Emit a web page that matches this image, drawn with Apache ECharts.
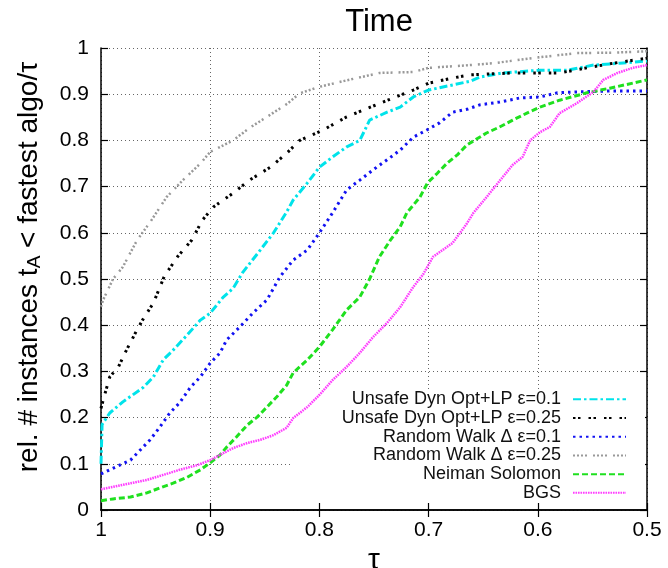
<!DOCTYPE html>
<html>
<head>
<meta charset="utf-8">
<script src="https://cdn.jsdelivr.net/npm/echarts@6/dist/echarts.min.js"></script>
<style>
html,body{margin:0;padding:0;background:#fff;}
#chart{width:668px;height:568px;}
</style>
</head>
<body>
<div id="chart"></div>
<script>
// ---- data ----
const seriesNames = [
  'Unsafe Dyn Opt+LP \u03b5=0.1',
  'Unsafe Dyn Opt+LP \u03b5=0.25',
  'Random Walk \u0394 \u03b5=0.1',
  'Random Walk \u0394 \u03b5=0.25',
  'Neiman Solomon',
  'BGS'
];
const xTicks = [1, 0.9, 0.8, 0.7, 0.6, 0.5];
const yTicks = [0, 0.1, 0.2, 0.3, 0.4, 0.5, 0.6, 0.7, 0.8, 0.9, 1];

const cyanTau = [1.0, 0.999, 0.992, 0.98, 0.971, 0.961, 0.952, 0.943, 0.934, 0.921, 0.909, 0.90, 0.888, 0.879, 0.87, 0.854, 0.842, 0.83, 0.824, 0.811, 0.80, 0.788, 0.775, 0.763, 0.754, 0.738, 0.726, 0.714, 0.70, 0.678, 0.662, 0.653, 0.632, 0.598, 0.573, 0.549, 0.525, 0.5];
const cyanVal = [0.10, 0.185, 0.21, 0.234, 0.249, 0.266, 0.288, 0.325, 0.346, 0.379, 0.411, 0.426, 0.461, 0.48, 0.515, 0.563, 0.60, 0.645, 0.671, 0.708, 0.742, 0.764, 0.786, 0.80, 0.844, 0.861, 0.872, 0.894, 0.909, 0.92, 0.928, 0.937, 0.946, 0.952, 0.952, 0.963, 0.967, 0.972];

const blackTau = [1.0, 0.998, 0.992, 0.984, 0.978, 0.967, 0.961, 0.952, 0.942, 0.93, 0.917, 0.907, 0.897, 0.879, 0.864, 0.845, 0.83, 0.818, 0.797, 0.775, 0.745, 0.714, 0.70, 0.678, 0.662, 0.623, 0.58, 0.555, 0.531, 0.5];
const blackVal = [0.22, 0.238, 0.288, 0.31, 0.34, 0.39, 0.415, 0.448, 0.506, 0.548, 0.584, 0.628, 0.656, 0.686, 0.714, 0.742, 0.772, 0.80, 0.822, 0.851, 0.88, 0.909, 0.924, 0.935, 0.942, 0.946, 0.946, 0.957, 0.967, 0.978];

const blueTau = [1.0, 0.992, 0.983, 0.973, 0.964, 0.955, 0.946, 0.937, 0.928, 0.918, 0.909, 0.90, 0.891, 0.885, 0.873, 0.861, 0.848, 0.836, 0.824, 0.811, 0.80, 0.788, 0.775, 0.763, 0.751, 0.738, 0.726, 0.714, 0.702, 0.69, 0.678, 0.664, 0.653, 0.635, 0.616, 0.598, 0.582, 0.564, 0.534, 0.5];
const blueVal = [0.078, 0.087, 0.097, 0.108, 0.13, 0.152, 0.18, 0.21, 0.232, 0.266, 0.288, 0.318, 0.34, 0.368, 0.396, 0.426, 0.455, 0.505, 0.541, 0.563, 0.60, 0.643, 0.693, 0.714, 0.736, 0.758, 0.779, 0.807, 0.822, 0.838, 0.861, 0.868, 0.877, 0.883, 0.892, 0.894, 0.903, 0.905, 0.907, 0.907];

const grayTau = [1.0, 0.998, 0.989, 0.98, 0.967, 0.955, 0.94, 0.925, 0.909, 0.90, 0.879, 0.864, 0.848, 0.829, 0.818, 0.80, 0.775, 0.745, 0.714, 0.70, 0.662, 0.641, 0.598, 0.564, 0.53, 0.5];
const grayVal = [0.44, 0.455, 0.50, 0.526, 0.584, 0.623, 0.677, 0.714, 0.75, 0.775, 0.80, 0.827, 0.851, 0.88, 0.902, 0.916, 0.93, 0.946, 0.948, 0.957, 0.963, 0.967, 0.98, 0.989, 0.99, 0.993];

const greenTau = [1.0, 0.989, 0.973, 0.958, 0.946, 0.934, 0.921, 0.909, 0.90, 0.891, 0.885, 0.876, 0.866, 0.857, 0.848, 0.839, 0.83, 0.824, 0.811, 0.80, 0.788, 0.775, 0.763, 0.754, 0.745, 0.735, 0.726, 0.72, 0.708, 0.701, 0.692, 0.683, 0.674, 0.665, 0.647, 0.635, 0.623, 0.61, 0.598, 0.58, 0.555, 0.534, 0.513, 0.5];
const greenVal = [0.02, 0.024, 0.028, 0.037, 0.048, 0.058, 0.071, 0.087, 0.102, 0.119, 0.136, 0.158, 0.184, 0.201, 0.223, 0.245, 0.27, 0.297, 0.325, 0.353, 0.39, 0.433, 0.461, 0.50, 0.548, 0.584, 0.613, 0.643, 0.677, 0.708, 0.729, 0.751, 0.768, 0.79, 0.816, 0.829, 0.844, 0.859, 0.872, 0.887, 0.903, 0.913, 0.924, 0.931];

const bgsTau = [1.0, 0.989, 0.973, 0.958, 0.943, 0.928, 0.912, 0.90, 0.888, 0.879, 0.866, 0.854, 0.842, 0.83, 0.824, 0.811, 0.80, 0.788, 0.775, 0.763, 0.751, 0.738, 0.726, 0.714, 0.705, 0.696, 0.678, 0.665, 0.659, 0.647, 0.632, 0.623, 0.614, 0.607, 0.598, 0.589, 0.58, 0.564, 0.549, 0.54, 0.527, 0.513, 0.5];
const bgsVal = [0.045, 0.05, 0.058, 0.065, 0.076, 0.087, 0.097, 0.108, 0.123, 0.134, 0.145, 0.152, 0.162, 0.178, 0.199, 0.223, 0.249, 0.281, 0.31, 0.34, 0.374, 0.405, 0.439, 0.483, 0.51, 0.548, 0.578, 0.62, 0.643, 0.677, 0.721, 0.747, 0.764, 0.80, 0.818, 0.829, 0.859, 0.881, 0.905, 0.931, 0.946, 0.957, 0.963];

// ---- chart ----
const FONT = 'Liberation Sans, Arial, sans-serif';
function pairs(t, v) { return t.map((x, i) => [x, v[i]]); }

const styles = [
  { color: '#00e3ea', width: 3, type: [8, 3, 2.5, 3] },
  { color: '#000000', width: 3, type: [2.5, 2.5, 2.5, 8] },
  { color: '#1212f2', width: 3, type: [2.5, 4] },
  { color: '#999999', width: 2.5, type: [2, 2, 2, 2, 2, 2, 2, 6] },
  { color: '#1fe01f', width: 3, type: [6, 3] },
  { color: '#ff3dff', width: 2.5, type: [1.6, 0.9] }
];
const dataSets = [
  pairs(cyanTau, cyanVal),
  pairs(blackTau, blackVal),
  pairs(blueTau, blueVal),
  pairs(grayTau, grayVal),
  pairs(greenTau, greenVal),
  pairs(bgsTau, bgsVal)
];

const chart = echarts.init(document.getElementById('chart'), null, { renderer: 'canvas' });

const axisBorder = { show: true, lineStyle: { color: '#000', width: 1.5 } };
const tickStyle = { show: true, inside: true, length: 7, lineStyle: { color: '#000', width: 1.2 } };
const option = {
  animation: false,
  backgroundColor: '#fff',
  title: {
    text: 'Time', left: 374, top: 2, textAlign: 'center',
    textStyle: { fontFamily: FONT, fontSize: 31, fontWeight: 'normal', color: '#000' }
  },
  grid: { left: 101, right: 21, top: 48, bottom: 58, outerBoundsMode: 'none', containLabel: false },
  legend: {
    orient: 'vertical', right: 41, top: 390, align: 'right',
    itemWidth: 53, itemHeight: 10, itemGap: 0, padding: 0,
    selectedMode: false,
    itemStyle: { opacity: 0 },
    textStyle: { fontFamily: FONT, fontSize: 18, color: '#111', lineHeight: 18.7, padding: [0, 7, 0, 0] },
    data: seriesNames
  },
  xAxis: [{
    type: 'value', min: 0.5, max: 1, interval: 0.1, inverse: true,
    name: '\u03c4', nameLocation: 'middle', nameGap: 30,
    nameTextStyle: { fontFamily: FONT, fontSize: 30, color: '#000' },
    axisLine: axisBorder, axisTick: tickStyle,
    axisLabel: { fontFamily: FONT, fontSize: 21, color: '#000', margin: 10,
      formatter: v => { const t = xTicks.find(k => Math.abs(k - v) < 1e-9); return t === undefined ? '' : String(t); } },
    splitLine: { show: true, lineStyle: { color: '#666', width: 1, type: [1, 3] } }
  }, {
    type: 'value', position: 'top', min: 0.5, max: 1, interval: 0.1, inverse: true,
    axisLine: axisBorder, axisTick: tickStyle,
    axisLabel: { show: false }, splitLine: { show: false }
  }],
  yAxis: [{
    type: 'value', min: 0, max: 1, interval: 0.1,
    axisLine: axisBorder, axisTick: tickStyle,
    axisLabel: { fontFamily: FONT, fontSize: 21, color: '#000', margin: 12,
      formatter: v => { const t = yTicks.find(k => Math.abs(k - v) < 1e-9); return t === undefined ? '' : String(t); } },
    splitLine: { show: true, lineStyle: { color: '#666', width: 1, type: [1, 3] } }
  }, {
    type: 'value', position: 'right', min: 0, max: 1, interval: 0.1,
    axisLine: axisBorder, axisTick: tickStyle,
    axisLabel: { show: false }, splitLine: { show: false }
  }],
  graphic: [
    {
      type: 'rect', z: 1, silent: true,
      shape: { x: 292, y: 389, width: 353, height: 113 },
      style: { fill: '#fff' }
    },
    {
      type: 'text', x: 29, y: 267, rotation: Math.PI / 2,
      style: {
        text: '{a|rel. # instances t}{s|A}{a| < fastest algo/\u03c4}',
        align: 'center', verticalAlign: 'middle',
        rich: {
          a: { fontFamily: FONT, fontSize: 28, fill: '#000' },
          s: { fontFamily: FONT, fontSize: 19, fill: '#000', padding: [12, 0, 0, 0] }
        }
      }
    }
  ],
  series: seriesNames.map((n, i) => ({
    name: n, type: 'line', xAxisIndex: 0, yAxisIndex: 0,
    data: dataSets[i], symbol: 'none', showSymbol: false, z: 2,
    lineStyle: { color: styles[i].color, width: styles[i].width, type: styles[i].type },
    itemStyle: { color: styles[i].color }
  }))
};
chart.setOption(option);
</script>
</body>
</html>
